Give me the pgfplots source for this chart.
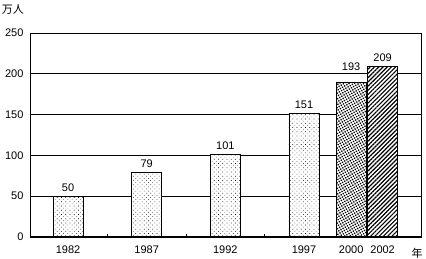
\documentclass[border=0pt]{standalone}
\usepackage{pgfplots}
\pgfplotsset{compat=1.18}
\usetikzlibrary{patterns.meta}
\usepackage{fontspec}
\setmainfont{Liberation Sans}
\newfontfamily\cjk{Noto Sans CJK JP}

\pgfplotstableread{
x y label
1982 50 50
1987 79 79
1992 101 101
1997 151 151
}\dataA
\pgfplotstableread{
x y label
2000 189 193
}\dataB
\pgfplotstableread{
x y label
2002 209 209
}\dataC

\begin{document}
\begin{tikzpicture}
\begin{axis}[
  at={(0,0)}, anchor=south west,
  width=391pt, height=204pt, scale only axis,
  xmin=1979.58, xmax=2004.44, ymin=0, ymax=250,
  ytick={0,50,...,250},
  ymajorgrids, grid style={black, line width=0.8pt},
  axis line style={black, line width=0.8pt},
  xtick={1984.5,1989.5,1994.5}, xticklabels={},
  extra x ticks={1982,1987,1992,1997,2000,2002},
  extra x tick labels={1982,1987,1992,1997,2000,2002},
  extra x tick style={major tick length=0pt, grid=none},
  tick align=inside, major tick length=3pt,
  xtick pos=bottom, ytick pos=left,
  ytick style={draw=none},
  xtick style={black, line width=0.8pt},
  tick label style={font=\fontsize{11}{13}\selectfont},
  /pgf/number format/assume math mode=true,
  yticklabel style={xshift=-3pt},
  xticklabel style={yshift=-5pt},
  clip=false,
  bar width=30pt,
  nodes near coords,
  point meta=explicit symbolic,
  every node near coord/.append style={font=\fontsize{11}{13}\selectfont, yshift=1pt},
]
\addplot[ybar, bar shift=0pt, draw=black, line width=0.8pt, fill=white,
  postaction={pattern={Dots[radius=0.45pt, distance=3pt, angle=45]}}]
  table[x=x, y=y, meta=label]{\dataA};
\addplot[ybar, bar shift=0pt, draw=black, line width=0.8pt, fill=white,
  postaction={pattern={Dots[radius=0.95pt, distance=2.5pt, angle=30]}},
  every node near coord/.append style={yshift=7pt}]
  table[x=x, y=y, meta=label]{\dataB};
\addplot[ybar, bar shift=0pt, draw=black, line width=0.8pt, fill=white,
  postaction={pattern={Lines[angle=45, distance=3pt, line width=1.2pt]}}]
  table[x=x, y=y, meta=label]{\dataC};
\draw[black, line width=2pt] (rel axis cs:0,0) -- (rel axis cs:1,0);
\node[font=\cjk\fontsize{11}{13}\selectfont] at (rel axis cs:0,1) [xshift=-17pt, yshift=23pt] {万人};
\node[font=\cjk\fontsize{11}{13}\selectfont] at (axis cs:2004.19,0) [yshift=-16pt] {年};
\end{axis}
\pgfresetboundingbox
\path[use as bounding box] (-30pt,-22pt) rectangle (396pt,237pt);
\end{tikzpicture}
\end{document}
